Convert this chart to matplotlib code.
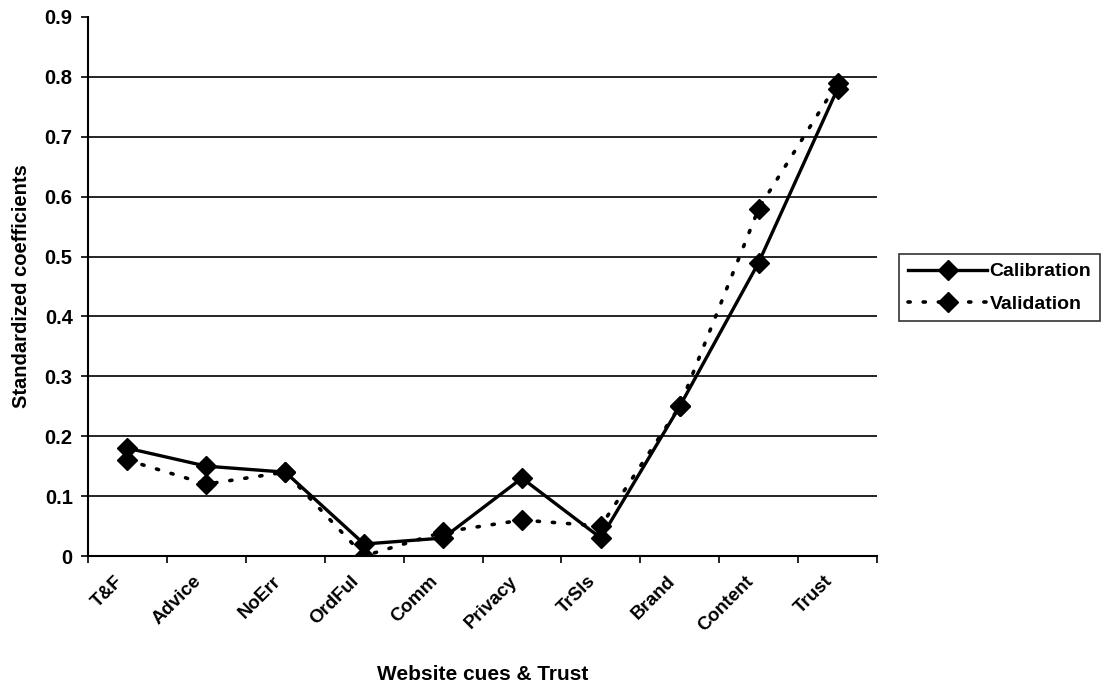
import matplotlib
matplotlib.use("Agg")
import matplotlib.pyplot as plt
from matplotlib.ticker import FixedLocator, NullFormatter

categories = ["T&F", "Advice", "NoErr", "OrdFul", "Comm", "Privacy", "TrSls", "Brand", "Content", "Trust"]
calibration = [0.18, 0.15, 0.14, 0.02, 0.03, 0.13, 0.03, 0.25, 0.49, 0.78]
validation = [0.16, 0.12, 0.14, 0.00, 0.04, 0.06, 0.05, 0.25, 0.58, 0.79]
y_ticks = [0, 0.1, 0.2, 0.3, 0.4, 0.5, 0.6, 0.7, 0.8, 0.9]
y_ticklabels = ["0", "0.1", "0.2", "0.3", "0.4", "0.5", "0.6", "0.7", "0.8", "0.9"]

plt.rcParams['font.family'] = ['Liberation Sans', 'DejaVu Sans']
plt.rcParams['font.weight'] = 'bold'

fig = plt.figure(figsize=(11.01, 6.86), dpi=100)
ax = fig.add_axes([88/1101, 1 - 556/686, (877-88)/1101, (556-17)/686])

x = list(range(len(categories)))
ax.plot(x, calibration, color='black', lw=2.4, marker='D', ms=10,
        label='Calibration', zorder=3)
ax.plot(x, validation, color='black', lw=2.6, linestyle=(0, (0.6, 3.6)),
        dash_capstyle='round', marker='D', ms=10, label='Validation', zorder=3)

ax.set_xlim(-0.5, len(categories) - 0.5)
ax.set_ylim(0, 0.9)
ax.set_yticks(y_ticks)
ax.set_yticklabels(y_ticklabels, fontsize=14.5, fontweight='bold')
for yv in y_ticks[1:-1]:
    ax.axhline(yv, color='black', lw=1.2, zorder=1)

# category labels anchored slightly left of the category centres
ax.xaxis.set_major_locator(FixedLocator([i - 0.5 for i in range(len(categories) + 1)]))
ax.xaxis.set_major_formatter(NullFormatter())
ax.xaxis.set_minor_locator(FixedLocator([i - 0.17 for i in x]))
ax.set_xticklabels(categories, minor=True, rotation=45, ha='right',
                   rotation_mode='anchor', fontsize=13.5, fontweight='bold')
ax.tick_params(axis='x', which='minor', length=0, pad=12)
ax.tick_params(axis='x', which='major', length=5, width=1.2, direction='out')
ax.tick_params(axis='y', length=5, width=1.2, direction='out', pad=6)

for s in ['top', 'right']:
    ax.spines[s].set_visible(False)
for s in ['left', 'bottom']:
    ax.spines[s].set_linewidth(1.5)

ax.set_xlabel("Website cues & Trust", fontsize=15, fontweight='bold', labelpad=22)
ax.set_ylabel("Standardized coefficients", fontsize=14.5, fontweight='bold', labelpad=10)

leg = fig.legend(loc='upper left', bbox_to_anchor=(899/1101, 1 - 254/686),
                 fontsize=14, frameon=True, fancybox=False, edgecolor='black',
                 borderpad=0.45, handlelength=4.1, labelspacing=0.75,
                 handletextpad=0.1, borderaxespad=0)
leg.get_frame().set_linewidth(1.2)

fig.savefig("out.png", dpi=100, facecolor='white')
